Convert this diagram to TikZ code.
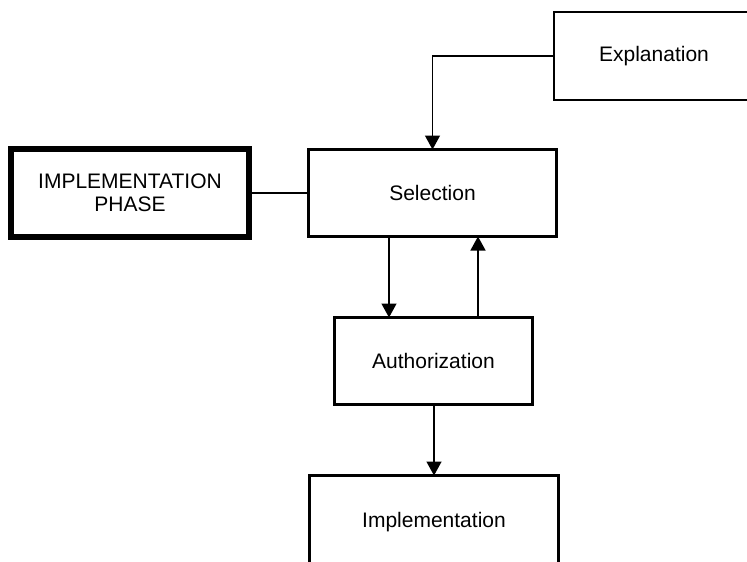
\documentclass[tikz,border=0pt]{standalone}
\usepackage{fontspec}
\setmainfont{Liberation Sans}
\usetikzlibrary{arrows.meta}
\begin{document}
\begin{tikzpicture}[x=1pt,y=-1pt,
  box/.style={draw, line width=2.8pt, rectangle, outer sep=0pt, inner sep=0pt,
    align=center, font=\fontsize{21}{23.4}\selectfont},
  phasebox/.style={box, line width=5.5pt},
  link/.style={line width=1.4pt},
  arr/.style={link, -{Triangle[width=15pt,length=14pt]}}]
\useasboundingbox (0,0) rectangle (747,562);

% boxes
\node[box, minimum width=200pt, minimum height=88pt] (expl) at (654,56) {Explanation};
\node[box, minimum width=248pt, minimum height=87pt] (sel) at (432.5,193) {Selection};
\node[phasebox, minimum width=238.4pt, minimum height=88.4pt] (phase) at (130,193) {IMPLEMENTATION\\PHASE};
\node[box, minimum width=198pt, minimum height=87pt] (auth) at (433.5,361) {Authorization};
\node[box, minimum width=249pt, minimum height=93pt] (impl) at (434,522) {Implementation};

% attachment points of the two parallel links
\coordinate (downx) at (389,0);
\coordinate (upx) at (478,0);

% connectors
\draw[arr] (expl.west) -| (sel.north);
\draw[link] (phase.east) -- (sel.west);
\draw[arr] (sel.south -| downx) -- (auth.north -| downx);
\draw[arr] (auth.north -| upx) -- (sel.south -| upx);
\draw[arr] (auth.south -| impl.north) -- (impl.north);
\end{tikzpicture}
\end{document}
